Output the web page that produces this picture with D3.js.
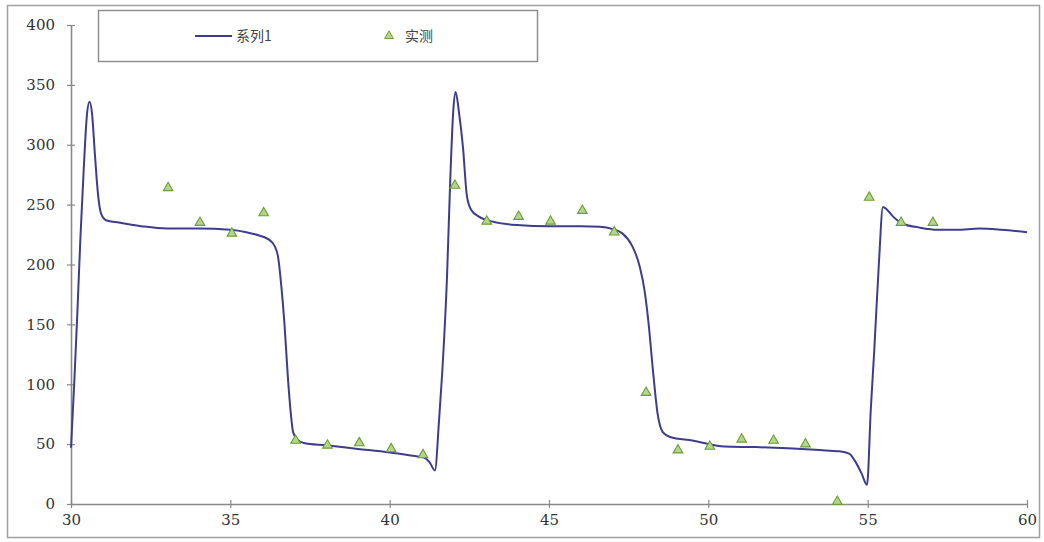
<!DOCTYPE html>
<html>
<head>
<meta charset="utf-8">
<script src="https://cdn.jsdelivr.net/npm/d3@7"></script>
<style>
  html, body { margin: 0; padding: 0; background: #fff; }
  svg { display: block; }
  svg text.num { font-family: "DejaVu Serif", "Liberation Serif", serif !important; }
</style>
</head>
<body>
<svg id="chart" width="1044" height="542"></svg>
<script>
// ---- data ----
const seriesLineName = "系列1";
const seriesPointName = "实测";

const lineX = [30, 30.1, 30.2, 30.3, 30.4, 30.5, 30.58, 30.66, 30.75, 30.85, 30.95, 31.1, 31.5, 32.2, 33, 34, 35, 35.5, 35.8, 36.2, 36.4, 36.5, 36.6, 36.7, 36.8, 36.9, 36.97, 37.1, 37.3, 38, 39, 40, 40.8, 41.06, 41.25, 41.42, 41.55, 41.65, 41.8, 41.9, 42.0, 42.07, 42.18, 42.3, 42.42, 42.55, 42.8, 43.2, 44, 45, 46, 46.6, 47, 47.3, 47.6, 47.85, 48.0, 48.12, 48.25, 48.41, 48.57, 48.8, 49.5, 50.5, 51.5, 52.5, 53.5, 54.1, 54.42, 54.6, 54.8, 54.98, 55.1, 55.2, 55.35, 55.48, 55.6, 55.8, 56.1, 56.6, 57.2, 57.8, 58.5, 59.2, 60];
const lineY = [47, 100, 160, 225, 280, 325, 336, 326, 292, 258, 242, 237, 235, 232, 230, 230, 229, 227, 225, 221, 215, 206, 182, 150, 108, 75, 60, 54, 51, 49, 46, 43, 40, 39, 35, 28, 70, 110, 190, 270, 330, 344, 326, 298, 258, 246, 240, 236, 233, 232, 232, 231.5, 229.5, 226, 216, 198, 178, 152, 115, 75, 60, 56, 53, 48, 47.5, 46.5, 45, 44, 42, 36, 26, 16, 80, 125, 200, 248, 246, 240, 234, 231, 229, 229, 230, 229, 227];

const pointX = [33, 34, 35, 36, 37, 38, 39, 40, 41, 42, 43, 44, 45, 46, 47, 48, 49, 50, 51, 52, 53, 54, 55, 56, 57];
const pointY = [264, 235, 226, 243, 53, 49, 51, 46, 41, 266, 236, 240, 236, 245, 227, 93, 45, 48, 54, 53, 50, 2, 256, 235, 235];

const xTicks = [30, 35, 40, 45, 50, 55, 60];
const yTicks = [0, 50, 100, 150, 200, 250, 300, 350, 400];

// ---- drawing ----
const svg = d3.select("#chart");
const lineColor = "#3d3d8f";
const axisColor = "#8a8a8a";
const markFill = "#b3d68c";
const markStroke = "#6c9e35";
const numFont = "'DejaVu Serif', 'Liberation Serif', serif";

// outer frame
svg.append("rect")
  .attr("x", 7.5).attr("y", 5.5).attr("width", 1032).attr("height", 532)
  .attr("fill", "#fff").attr("stroke", "#a0a0a0").attr("stroke-width", 1.5);

const x = d3.scaleLinear().domain([30, 60]).range([71, 1027]);
const y = d3.scaleLinear().domain([0, 400]).range([504, 25]);

function styleAxis(g) {
  g.attr("font-family", numFont).attr("font-size", 15);
  g.select(".domain").attr("stroke", axisColor).attr("stroke-width", 1.6);
  g.selectAll(".tick line").attr("stroke", axisColor).attr("stroke-width", 1.2);
  g.selectAll(".tick text")
    .attr("class", "num")
    .attr("fill", "#333")
    .style("font-size", "15px");
}

// inner tick halves (crossing ticks)
svg.append("g").attr("transform", `translate(0,${y(0)})`)
  .call(d3.axisTop(x).tickValues(xTicks).tickSize(4).tickFormat(""))
  .call(g => { g.select(".domain").remove(); g.selectAll(".tick line").attr("stroke", axisColor).attr("stroke-width", 1.2); });
svg.append("g").attr("transform", `translate(${x(30)},0)`)
  .call(d3.axisRight(y).tickValues(yTicks).tickSize(4).tickFormat(""))
  .call(g => { g.select(".domain").remove(); g.selectAll(".tick line").attr("stroke", axisColor).attr("stroke-width", 1.2); });

svg.append("g").attr("transform", `translate(0,${y(0)})`)
  .call(d3.axisBottom(x).tickValues(xTicks).tickSize(4).tickSizeOuter(0).tickPadding(6).tickFormat(d3.format("d")))
  .call(styleAxis);

svg.append("g").attr("transform", `translate(${x(30)},0)`)
  .call(d3.axisLeft(y).tickValues(yTicks).tickSize(4).tickSizeOuter(0).tickPadding(12).tickFormat(d3.format("d")))
  .call(styleAxis);

// line series
const lineData = lineX.map((v, i) => [v, lineY[i]]);
svg.append("path")
  .datum(lineData)
  .attr("fill", "none")
  .attr("stroke", lineColor)
  .attr("stroke-width", 2)
  .attr("stroke-linejoin", "round")
  .attr("d", d3.line().x(d => x(d[0])).y(d => y(d[1])).curve(d3.curveMonotoneX));

// measured points
const tri = d3.symbol().type(d3.symbolTriangle).size(40);
svg.append("g").selectAll("path")
  .data(pointX.map((v, i) => [v, pointY[i]]))
  .join("path")
  .attr("transform", d => `translate(${x(d[0]) + 1.5},${y(d[1])})`)
  .attr("d", tri)
  .attr("fill", markFill)
  .attr("stroke", markStroke)
  .attr("stroke-width", 1.1);

// legend
const lg = svg.append("g");
lg.append("rect")
  .attr("x", 98.5).attr("y", 10.5).attr("width", 439).attr("height", 51)
  .attr("fill", "#fff").attr("stroke", "#8f8f8f").attr("stroke-width", 1.5);
lg.append("line")
  .attr("x1", 195).attr("x2", 232).attr("y1", 36).attr("y2", 36)
  .attr("stroke", lineColor).attr("stroke-width", 2.2);
lg.append("text")
  .attr("x", 236).attr("y", 41)
  .attr("fill", "#444")
  .style("font-family", "'Noto Sans CJK SC', sans-serif")
  .style("font-size", "14px")
  .text(seriesLineName);
lg.append("path")
  .attr("transform", "translate(389,36)")
  .attr("d", d3.symbol().type(d3.symbolTriangle).size(34))
  .attr("fill", markFill).attr("stroke", markStroke).attr("stroke-width", 1);
lg.append("text")
  .attr("x", 405).attr("y", 41)
  .attr("fill", "#444")
  .style("font-family", "'Noto Sans CJK SC', sans-serif")
  .style("font-size", "14px")
  .text(seriesPointName);
</script>
</body>
</html>
